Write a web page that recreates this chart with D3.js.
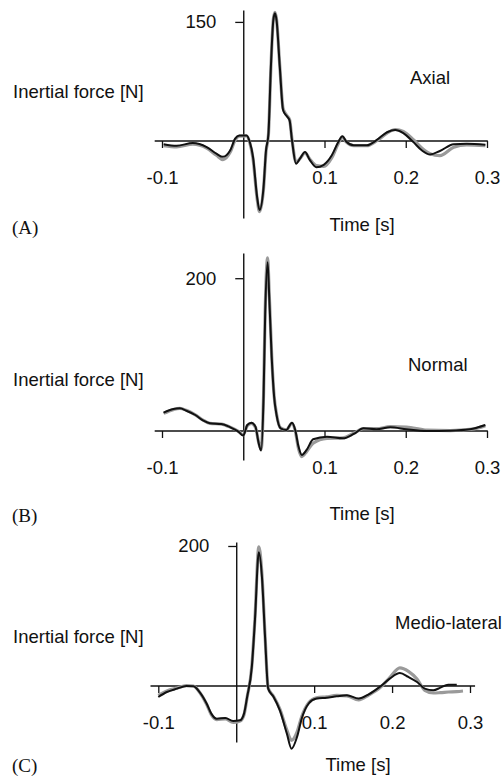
<!DOCTYPE html>
<html>
<head>
<meta charset="utf-8">
<script src="https://cdn.jsdelivr.net/npm/d3@7/dist/d3.min.js"></script>
<style>
  body { margin: 0; background: #fff; }
  text { font-family: "Liberation Sans", Arial, sans-serif; fill: #111; }
  .letter { font-family: "Liberation Serif", "Times New Roman", serif; }
</style>
</head>
<body>
<svg id="chart" width="503" height="776"></svg>
<script>
'use strict';

// tick labels shared by the three panels
var xTicks = [-0.1, 0.1, 0.2, 0.3];

// (A) axial inertial force, time in s, force in N
var axialTime = [-0.098, -0.082, -0.062, -0.045, -0.033, -0.025, -0.016, -0.010, -0.005, 0.004, 0.008, 0.012, 0.017, 0.020, 0.025, 0.028, 0.031, 0.034, 0.037, 0.039, 0.041, 0.045, 0.049, 0.053, 0.057, 0.060, 0.065, 0.070, 0.076, 0.082, 0.090, 0.099, 0.109, 0.117, 0.122, 0.127, 0.136, 0.152, 0.164, 0.177, 0.187, 0.197, 0.209, 0.220, 0.230, 0.242, 0.259, 0.275, 0.298];
var axialMeasured = [-4, -6, -2.5, -7.6, -16, -20, -11.8, 3, 7, 7, -1, -20, -70, -87, -58, -12, 9, 93, 152, 161, 152, 93, 39, 32, 26, 1, -28.6, -22, -14, -24, -33, -30, -18, -1.3, 6, -1, -5.5, -5.5, 1, 11, 14, 10, -1, -12, -17, -12.6, -4, -3.4, -4.6];
var axialModel = [-6, -7.5, -4, -9, -18, -23.5, -14, 1, 6, 6.5, -2, -22, -72, -89, -60, -14, 8, 92, 153, 162, 153, 94, 41, 33, 27, 2, -27, -22, -15, -23, -31, -32, -21, -3, 5, -1.5, -6, -6, 0, 10, 14.5, 12, 2, -9, -16, -18.5, -8, -5, -6];

// (B) normal inertial force
var normalTime = [-0.098, -0.086, -0.078, -0.070, -0.059, -0.049, -0.041, -0.027, -0.016, -0.006, 0.000, 0.005, 0.010, 0.015, 0.019, 0.022, 0.025, 0.027, 0.030, 0.032, 0.035, 0.038, 0.041, 0.046, 0.053, 0.060, 0.064, 0.068, 0.072, 0.078, 0.086, 0.103, 0.123, 0.136, 0.148, 0.164, 0.181, 0.201, 0.226, 0.255, 0.279, 0.289, 0.298];
var normalMeasured = [23.9, 28.7, 29.6, 26.5, 20.9, 13.5, 10, 9.1, 4.8, -0.9, -6, 7.8, 10.9, 5.7, -16, -25.7, 44.8, 153, 221, 175, 97, 44.8, 20.9, 3.5, 1.3, 10.9, 1.3, -20.4, -31.3, -24.8, -10.9, -7.4, -9.6, -3.9, 3.5, 2.2, 4.8, 2.2, 0, 0.4, 2.2, 4.8, 7.8];
var normalModel = [23, 28, 29.5, 27, 21, 14, 10, 9, 5, -0.5, -5, 7, 10, 5, -15, -24, 47, 158, 226.5, 180, 99, 46, 22, 4, 1.5, 10, 0, -23, -33.5, -27, -16, -9.6, -9, -3, 3, 3, 5.6, 5, 1, 0.5, 2, 4, 7];

// (C) medio-lateral inertial force
var medioTime = [-0.100, -0.089, -0.076, -0.064, -0.055, -0.047, -0.038, -0.032, -0.025, -0.014, -0.004, 0.005, 0.010, 0.014, 0.020, 0.024, 0.029, 0.033, 0.037, 0.041, 0.048, 0.056, 0.065, 0.071, 0.078, 0.084, 0.093, 0.103, 0.116, 0.129, 0.142, 0.157, 0.170, 0.185, 0.197, 0.210, 0.221, 0.232, 0.242, 0.253, 0.262, 0.272, 0.283, 0.291];
var medioMeasured = [-15.7, -8.6, -3.8, 0, -0.5, -8.6, -25, -39.5, -46.7, -45.7, -50, -49, -39.5, -15.7, 27, 93.8, 191, 155.7, 70, -3.8, -15.7, -34.8, -68, -89.5, -72.9, -46.7, -25, -18, -16.7, -14.8, -13.3, -18, -11.9, -0.5, 10.5, 18.6, 12.9, 5.7, -3.8, -6.2, -2.4, 1.9, 1.9, null];
var medioModel = [-13.3, -7, -3, 0.5, 0, -9, -26, -41, -48, -47, -52, -50, -41, -16, 28, 96, 198.6, 160, 72, -3, -15, -33, -63, -77.6, -66, -44, -24, -17, -15.5, -13.5, -14, -20, -13, -2, 12, 26, 21, 10, -6.2, -10, -9.5, -8.6, -8, -7.1];

var panels = [
  { name: 'Axial', letter: '(A)', time: axialTime, measured: axialMeasured, model: axialModel,
    yTick: 150, xRange: [162, 487], axisEnds: [-0.109, 0.301], yDomain: [-97, 165], yRange: [218, 10],
    nameX: 410, nameY: 78, yLabelY: 92, timeX: 362, timeY: 225, letterY: 227 },
  { name: 'Normal', letter: '(B)', time: normalTime, measured: normalMeasured, model: normalModel,
    yTick: 200, xRange: [162, 487], axisEnds: [-0.109, 0.301], yDomain: [-38, 233], yRange: [460, 253],
    nameX: 408, nameY: 365, yLabelY: 380, timeX: 362, timeY: 514, letterY: 515 },
  { name: 'Medio-lateral', letter: '(C)', time: medioTime, measured: medioMeasured, model: medioModel,
    yTick: 200, xRange: [158.3, 470], axisEnds: [-0.11, 0.3065], yDomain: [-80, 205.7], yRange: [742, 542],
    nameX: 395, nameY: 623, yLabelY: 637, timeX: 358, timeY: 765, letterY: 765 }
];

var svg = d3.select('#chart');

panels.forEach(function (p) {
  var x = d3.scaleLinear().domain([-0.1, 0.3]).range(p.xRange),
    y = d3.scaleLinear().domain(p.yDomain).range(p.yRange),
    g = svg.append('g');

  // zero line along the time axis
  g.append('line')
    .attr('x1', x(p.axisEnds[0])).attr('x2', x(p.axisEnds[1]))
    .attr('y1', y(0)).attr('y2', y(0))
    .attr('stroke', '#111').attr('stroke-width', 1.4);

  var xAxis = d3.axisBottom(x)
    .tickValues(xTicks)
    .tickSize(7)
    .tickPadding(23)
    .tickFormat(function (d) { return d.toFixed(1); });

  var xg = g.append('g')
    .attr('transform', 'translate(0,' + y(0) + ')')
    .call(xAxis);
  xg.select('.domain').remove();
  xg.selectAll('line').attr('stroke', '#111').attr('stroke-width', 1.3);
  xg.selectAll('text').attr('font-size', 18.5).attr('font-family', '"Liberation Sans", Arial, sans-serif').attr('fill', '#111');

  var yAxis = d3.axisLeft(y)
    .tickValues([p.yTick])
    .tickSize(8)
    .tickPadding(19)
    .tickSizeOuter(0);

  var yg = g.append('g')
    .attr('transform', 'translate(' + x(0) + ',0)')
    .call(yAxis);
  yg.select('.domain').attr('stroke', '#111').attr('stroke-width', 1.4);
  yg.selectAll('line').attr('stroke', '#111').attr('stroke-width', 1.3);
  yg.selectAll('text').attr('font-size', 18.5).attr('font-family', '"Liberation Sans", Arial, sans-serif').attr('fill', '#111');

  var line = function (values) {
    return d3.line()
      .defined(function (d, i) { return values[i] !== null; })
      .x(function (d) { return x(d); })
      .y(function (d, i) { return y(values[i]); })
      .curve(d3.curveMonotoneX)(p.time);
  };

  // model (grey) under measured (black)
  g.append('path')
    .attr('d', line(p.model))
    .attr('fill', 'none')
    .attr('stroke', '#9a9a9a')
    .attr('stroke-width', 3.2)
    .attr('stroke-linejoin', 'round');

  g.append('path')
    .attr('d', line(p.measured))
    .attr('fill', 'none')
    .attr('stroke', '#111')
    .attr('stroke-width', 2)
    .attr('stroke-linejoin', 'round');

  g.append('text')
    .attr('x', p.nameX).attr('y', p.nameY).attr('dy', '0.35em')
    .attr('font-size', 18.5)
    .text(p.name);

  g.append('text')
    .attr('x', 13).attr('y', p.yLabelY).attr('dy', '0.35em')
    .attr('font-size', 18.5)
    .text('Inertial force [N]');

  g.append('text')
    .attr('x', p.timeX).attr('y', p.timeY).attr('dy', '0.35em')
    .attr('text-anchor', 'middle')
    .attr('font-size', 18.5)
    .text('Time [s]');

  g.append('text')
    .attr('class', 'letter')
    .attr('x', 12).attr('y', p.letterY).attr('dy', '0.35em')
    .attr('font-size', 19)
    .text(p.letter);
});
</script>
</body>
</html>
